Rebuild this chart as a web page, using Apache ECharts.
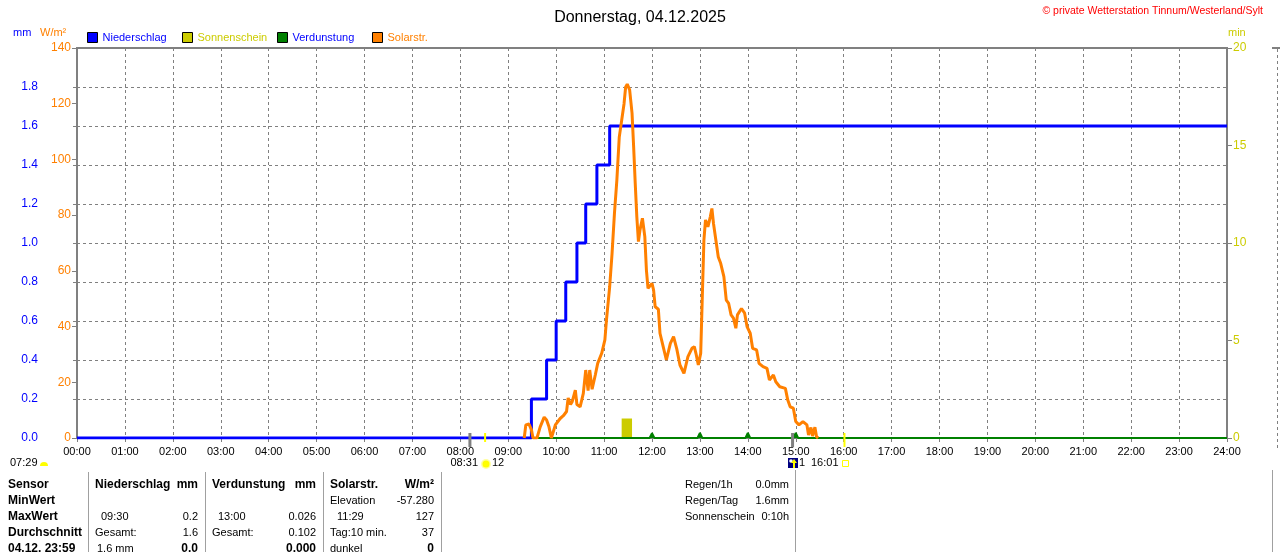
<!DOCTYPE html>
<html><head><meta charset="utf-8">
<script src="https://cdn.jsdelivr.net/npm/echarts@6/dist/echarts.min.js"></script>
<style>html,body{margin:0;padding:0;background:#fff}#c{width:1280px;height:552px}</style>
</head><body><div id="c"></div>
<script>
const xTickLabels = ['00:00','01:00','02:00','03:00','04:00','05:00','06:00','07:00','08:00','09:00','10:00','11:00','12:00','13:00','14:00','15:00','16:00','17:00','18:00','19:00','20:00','21:00','22:00','23:00','24:00'];

const rainTimes  = ['00:00','09:29','09:48','10:00','10:12','10:26','10:37','10:51','11:07','24:00'];
const rainValues = [0, 0.2, 0.4, 0.6, 0.8, 1.0, 1.2, 1.4, 1.6, 1.6];

const evapTimes  = ['00:00','11:57','12:00','12:03','12:57','13:00','13:03','13:57','14:00','14:03','14:57','15:00','15:03','24:00'];
const evapValues = [0, 0, 0.024, 0, 0, 0.026, 0, 0, 0.026, 0, 0, 0.026, 0, 0];

const sunStart  = ['11:22'];
const sunEnd    = ['11:35'];
const sunValues = [1];

const solarTimes = ['09:20','09:22','09:26','09:29','09:31','09:36','09:40','09:45','09:48','09:51','09:54','09:56','09:59','10:05','10:09','10:13','10:15','10:18','10:20','10:22','10:24','10:26','10:30','10:34','10:37','10:40','10:42','10:45','10:49','10:52','10:57','11:01','11:03','11:07','11:10','11:13','11:16','11:19','11:22','11:25','11:27','11:29','11:32','11:35','11:37','11:39','11:41','11:43','11:45','11:48','11:51','11:53','11:55','12:00','12:02','12:04','12:08','12:10','12:14','12:18','12:23','12:27','12:31','12:35','12:40','12:45','12:50','12:53','12:55','12:58','13:01','13:03','13:05','13:07','13:10','13:13','13:15','13:17','13:20','13:23','13:26','13:30','13:33','13:36','13:39','13:42','13:45','13:47','13:52','13:56','13:59','14:03','14:06','14:11','14:14','14:19','14:24','14:27','14:32','14:35','14:40','14:47','14:50','14:53','14:57','15:00','15:04','15:09','15:14','15:16','15:19','15:21','15:24','15:26','15:28'];
const solarValues = [0,4.7,5,3,0,0,4,7.5,6.5,4,0,0,4.7,7,8,9.5,14.4,12,13,12.5,17.2,12,11.2,16,24.4,17,24.4,17.5,22.6,26.8,30.4,35.2,42.4,54.3,66.3,80.7,92.6,108,114,120,126,127,125,116.6,104.6,91.4,79.4,70.5,74.7,78.9,72.3,60.3,53.7,55.5,53.1,47.1,46.2,37.6,32.8,28,34,36.4,32,26.2,23.2,29.2,32.2,32.8,30.4,26.2,30.4,50.7,71,78.3,75.8,79.4,82.4,77,71,65,62.7,57.9,49.5,48.3,44.2,43,39.4,44.2,46.5,44.8,40,37.6,32.2,31.6,26.8,25.6,25,20.8,22.6,20.2,18.4,17.8,13.6,11.2,10.7,5.9,4.7,5.9,4.7,1.1,3.8,0.7,3.9,0.5,0];

const markerTimes = ['08:12','08:31','14:56','16:01'];
const markerKinds = ['dawn','sunrise','dusk','sunset'];

function toH(s){ const p = s.split(':'); return +p[0] + (+p[1])/60; }
const zip = (ts, vs) => ts.map((t,i)=>[toH(t), vs[i]]);

const FF = '"Liberation Sans", Arial, sans-serif';
const GRAY = '#808080';
const fnt = (sz, b) => (b ? 'bold ' : '') + sz + 'px ' + FF;

function txt(x, y, text, color, size, bold, align){
  return {type:'text', x:x, y:y, silent:true,
    style:{text:text, fill:color||'#000', font:fnt(size||11, bold), align:align||'left', verticalAlign:'middle'}};
}
function vline(x, y1, y2, color, w, dash){
  return {type:'line', silent:true, shape:{x1:x,y1:y1,x2:x,y2:y2}, style:{stroke:color, lineWidth:w||1, lineDash:dash||null}};
}

const graphics = [
  txt(13, 33, 'mm', '#0000ff', 11),
  txt(40, 33, 'W/m²', '#ff8000', 11),
  txt(1228, 33, 'min', '#cccc00', 11),
  txt(1263, 11, '© private Wetterstation Tinnum/Westerland/Sylt', '#ff0000', 10.5, false, 'right'),
  // annotations below axis
  txt(10, 463, '07:29', '#000', 11),
  {type:'sector', silent:true, shape:{cx:44, cy:466, r:4, startAngle:Math.PI, endAngle:2*Math.PI}, style:{fill:'#ffff00'}},
  txt(478, 463, '08:31', '#000', 11, false, 'right'),
  {type:'circle', silent:true, shape:{cx:486, cy:464, r:5}, style:{fill:'#ffffa0'}},
  {type:'circle', silent:true, shape:{cx:486, cy:464, r:3.5}, style:{fill:'#ffff00'}},
  txt(492, 463, '12', '#000', 11),
  {type:'rect', silent:true, shape:{x:788, y:458, width:10, height:10}, style:{fill:'#000080'}},
  {type:'circle', silent:true, shape:{cx:791, cy:461, r:1.8}, style:{fill:'#ffffff'}},
  {type:'polygon', silent:true, shape:{points:[[794,459],[791,463],[793,463],[793,468],[795,468],[795,463],[797,463]]}, style:{fill:'#ffff00'}},
  txt(799, 463, '1', '#000', 11),
  txt(811, 463, '16:01', '#000', 11),
  {type:'rect', silent:true, shape:{x:842.5, y:460.5, width:6, height:6}, style:{fill:'none', stroke:'#ffff00', lineWidth:1}},
  // table separators
  vline(88.5, 472, 552, '#a0a0a0', 1),
  vline(205.5, 472, 552, '#a0a0a0', 1),
  vline(323.5, 472, 552, '#a0a0a0', 1),
  vline(441.5, 472, 552, '#a0a0a0', 1),
  vline(795.5, 470, 552, '#a0a0a0', 1),
  // table
  txt(8, 485, 'Sensor', '#000', 12, true),
  txt(8, 501, 'MinWert', '#000', 12, true),
  txt(8, 517, 'MaxWert', '#000', 12, true),
  txt(8, 533, 'Durchschnitt', '#000', 12, true),
  txt(8, 549, '04.12. 23:59', '#000', 12, true),
  txt(95, 485, 'Niederschlag', '#000', 12, true),
  txt(198, 485, 'mm', '#000', 12, true, 'right'),
  txt(101, 517, '09:30', '#000', 11),
  txt(198, 517, '0.2', '#000', 11, false, 'right'),
  txt(95, 533, 'Gesamt:', '#000', 11),
  txt(198, 533, '1.6', '#000', 11, false, 'right'),
  txt(97, 549, '1.6 mm', '#000', 11),
  txt(198, 549, '0.0', '#000', 12, true, 'right'),
  txt(212, 485, 'Verdunstung', '#000', 12, true),
  txt(316, 485, 'mm', '#000', 12, true, 'right'),
  txt(218, 517, '13:00', '#000', 11),
  txt(316, 517, '0.026', '#000', 11, false, 'right'),
  txt(212, 533, 'Gesamt:', '#000', 11),
  txt(316, 533, '0.102', '#000', 11, false, 'right'),
  txt(316, 549, '0.000', '#000', 12, true, 'right'),
  txt(330, 485, 'Solarstr.', '#000', 12, true),
  txt(434, 485, 'W/m²', '#000', 12, true, 'right'),
  txt(330, 501, 'Elevation', '#000', 11),
  txt(434, 501, '-57.280', '#000', 11, false, 'right'),
  txt(337, 517, '11:29', '#000', 11),
  txt(434, 517, '127', '#000', 11, false, 'right'),
  txt(330, 533, 'Tag:10 min.', '#000', 11),
  txt(434, 533, '37', '#000', 11, false, 'right'),
  txt(330, 549, 'dunkel', '#000', 11),
  txt(434, 549, '0', '#000', 12, true, 'right'),
  txt(685, 485, 'Regen/1h', '#000', 11),
  txt(789, 485, '0.0mm', '#000', 11, false, 'right'),
  txt(685, 501, 'Regen/Tag', '#000', 11),
  txt(789, 501, '1.6mm', '#000', 11, false, 'right'),
  txt(685, 517, 'Sonnenschein', '#000', 11),
  txt(789, 517, '0:10h', '#000', 11, false, 'right'),
  // cropped neighbour panel at right edge
  {type:'line', silent:true, shape:{x1:1272,y1:48,x2:1280,y2:48}, style:{stroke:GRAY, lineWidth:2}},
  vline(1277.5, 49, 450, GRAY, 1, [3,3]),
  vline(1272.5, 470, 552, '#a0a0a0', 1)
];

function legendFor(name, color, left){
  return {left:left, top:32, padding:0, itemWidth:10, itemHeight:10, icon:'rect', selectedMode:false,
    itemStyle:{borderColor:'#000', borderWidth:1},
    textStyle:{fontSize:11, color:color, fontFamily:FF}, data:[name]};
}

const markerStyle = {
  dawn:   {color:GRAY, w:3, len:9},
  dusk:   {color:GRAY, w:3, len:9},
  sunrise:{color:'#ffff00', w:2, len:4},
  sunset: {color:'#ffff00', w:2, len:9}
};

const option = {
  animation:false,
  backgroundColor:'#fff',
  textStyle:{fontFamily:FF},
  title:{text:'Donnerstag, 04.12.2025', left:'center', top:5,
    textStyle:{fontSize:16, fontWeight:'normal', color:'#000', fontFamily:FF}},
  legend:[
    legendFor('Niederschlag', '#0000ff', 87),
    legendFor('Sonnenschein', '#cccc00', 182),
    legendFor('Verdunstung', '#0000ff', 277),
    legendFor('Solarstr.', '#ff8000', 372)
  ],
  grid:{left:77, right:53, top:48, bottom:114, show:true, borderColor:GRAY, borderWidth:2, containLabel:false},
  xAxis:{type:'value', min:0, max:24, interval:1,
    axisLine:{show:true, lineStyle:{color:GRAY, width:2}},
    axisTick:{show:true, length:4, lineStyle:{color:GRAY}},
    axisLabel:{color:'#000', fontSize:11, margin:8, fontFamily:FF, formatter:v=>xTickLabels[Math.round(v)]},
    splitLine:{show:true, lineStyle:{color:GRAY, type:[3,3], width:1}}},
  yAxis:[
    {type:'value', min:0, max:2, interval:0.2, position:'left', offset:36,
      axisLine:{show:true, lineStyle:{color:GRAY, width:2}},
      axisTick:{show:true, length:4, lineStyle:{color:GRAY}},
      axisLabel:{color:'#0000ff', fontSize:12, margin:3, fontFamily:FF, showMaxLabel:false, formatter:v=>v.toFixed(1)},
      splitLine:{show:true, lineStyle:{color:GRAY, type:[3,3], width:1}}},
    {type:'value', min:0, max:140, interval:20, position:'left', offset:0,
      axisLine:{show:true, lineStyle:{color:GRAY, width:2}},
      axisTick:{show:true, length:5, lineStyle:{color:GRAY}},
      axisLabel:{color:'#ff8000', fontSize:12, margin:6, fontFamily:FF},
      splitLine:{show:false}},
    {type:'value', min:0, max:20, interval:5, position:'right', offset:0,
      axisLine:{show:true, lineStyle:{color:GRAY, width:2}},
      axisTick:{show:true, length:5, lineStyle:{color:GRAY}},
      axisLabel:{color:'#cccc00', fontSize:12, margin:6, fontFamily:FF},
      splitLine:{show:false}}
  ],
  graphic:graphics,
  series:[
    {name:'Verdunstung', type:'line', yAxisIndex:0, data:zip(evapTimes, evapValues), symbol:'none', z:2,
      lineStyle:{color:'#008000', width:2}, itemStyle:{color:'#008000'},
      areaStyle:{color:'#008000', opacity:1}},
    {name:'Sonnenschein', type:'custom', yAxisIndex:2, z:2,
      itemStyle:{color:'#cccc00'},
      data:sunStart.map((s,i)=>[toH(s), toH(sunEnd[i]), sunValues[i]]),
      renderItem:(params, api)=>{
        const p0 = api.coord([api.value(0), 0]);
        const p1 = api.coord([api.value(1), api.value(2)]);
        return {type:'rect', shape:{x:p0[0], y:p1[1], width:p1[0]-p0[0], height:p0[1]-p1[1]}, style:{fill:'#cccc00'}};
      }},
    {name:'Niederschlag', type:'line', yAxisIndex:0, step:'end', data:zip(rainTimes, rainValues), symbol:'none', z:3,
      lineStyle:{color:'#0000ff', width:3}, itemStyle:{color:'#0000ff'}},
    {name:'Solarstr.', type:'line', yAxisIndex:1, data:zip(solarTimes, solarValues), symbol:'none', z:4,
      lineStyle:{color:'#ff8000', width:3}, itemStyle:{color:'#ff8000'}},
    {name:'Marker', type:'custom', yAxisIndex:0, z:5, clip:false,
      data:markerTimes.map((t,i)=>[toH(t), i]),
      renderItem:(params, api)=>{
        const p = api.coord([api.value(0), 0]);
        const st = markerStyle[markerKinds[api.value(1)]];
        return {type:'line', shape:{x1:p[0], y1:p[1]-5, x2:p[0], y2:p[1]+st.len}, style:{stroke:st.color, lineWidth:st.w}};
      }}
  ]
};

const chart = echarts.init(document.getElementById('c'), null, {renderer:'canvas'});
chart.setOption(option);
</script></body></html>
